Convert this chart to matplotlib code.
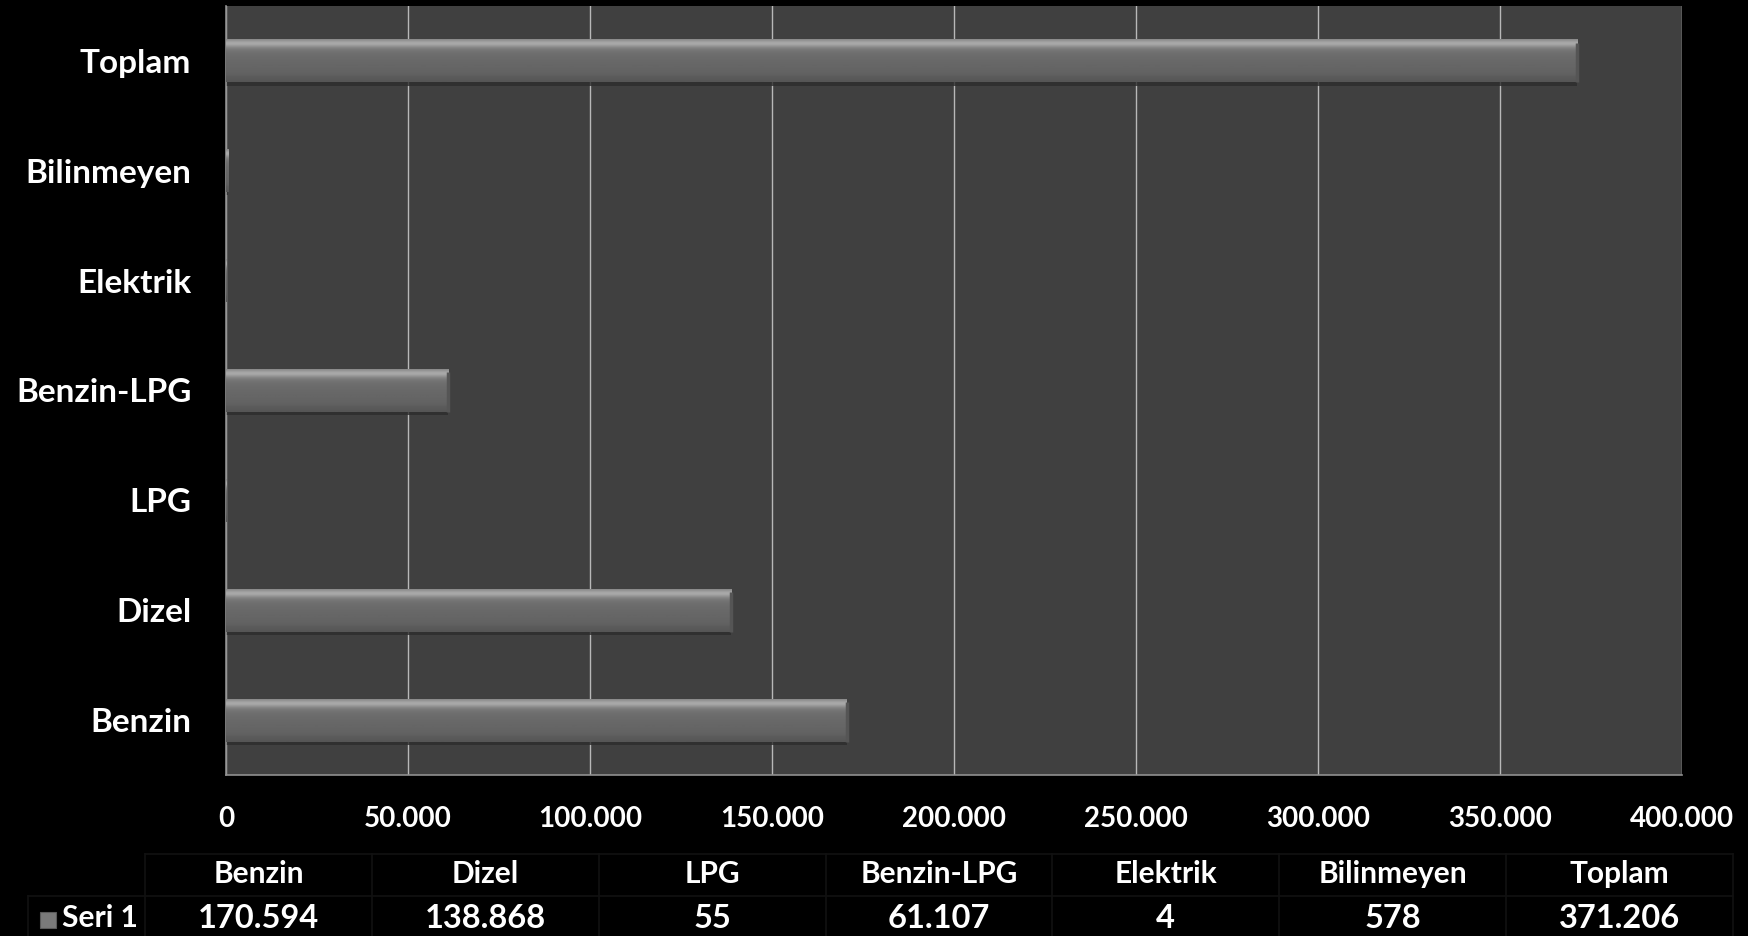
#!/usr/bin/env python3
# -*- coding: utf-8 -*-
import numpy as np
import matplotlib
matplotlib.use("Agg")
import matplotlib.pyplot as plt
from matplotlib.ticker import FuncFormatter
from matplotlib.lines import Line2D
from matplotlib.patches import Rectangle

# yakit turleri ve arac sayilari
categories = ["Benzin", "Dizel", "LPG", "Benzin-LPG", "Elektrik", "Bilinmeyen", "Toplam"]
values = [170594, 138868, 55, 61107, 4, 578, 371206]
series_name = "Seri 1"
xticks = [0, 50000, 100000, 150000, 200000, 250000, 300000, 350000, 400000]

plt.rcParams["font.family"] = ["Lato", "DejaVu Sans"]


def tr_fmt(x, pos=None):
    # turkce binlik ayirici nokta
    return f"{x:,.0f}".replace(",", ".")


fig = plt.figure(figsize=(17.48, 9.36), dpi=100, facecolor="black")
ax = fig.add_axes([0.1293, 0.172, 0.8329, 0.8216])
ax.set_facecolor("#404040")

# bar gradient profile (top -> bottom)
prof = np.array([0x8c, 0x9e, 0xaa, 0xa4, 0x94, 0x84, 0x7a, 0x74, 0x70, 0x6e, 0x6c, 0x6b,
                 0x6a, 0x69, 0x68, 0x67, 0x66, 0x66, 0x65, 0x64, 0x63, 0x62, 0x60, 0x5c,
                 0x5a, 0x58, 0x56]) / 255.0
img = np.repeat(prof[:, None], 3, axis=1)[:, None, :]
h = 0.39
for i, v in enumerate(values):
    # shadow
    ax.barh(i - 0.03, v, height=h, color="#2c2c2c", alpha=0.8, zorder=2)
    ax.imshow(img, extent=(0, v, i - h / 2, i + h / 2), aspect="auto",
              interpolation="bilinear", zorder=3)
    # end bevel
    if v > 5000:
        ax.plot([v, v], [i - h / 2, i + h / 2 - 0.03], color="#555555", lw=2.5,
                solid_capstyle="butt", zorder=4)

ax.set_xlim(0, 400000)
ax.set_ylim(-0.5, 6.5)
ax.set_xticks(xticks)
ax.xaxis.set_major_formatter(FuncFormatter(tr_fmt))
ax.set_yticks(range(len(categories)))
ax.set_yticklabels(categories)
ax.grid(axis="x", color="#b8b8b8", linewidth=1.0, zorder=1)
ax.set_axisbelow(True)
ax.tick_params(axis="both", length=0, colors="white")
ax.tick_params(axis="x", pad=22, labelsize=20)
ax.tick_params(axis="y", pad=25, labelsize=24)
for lab in ax.get_xticklabels() + ax.get_yticklabels():
    lab.set_fontweight("bold")
for s in ["left", "bottom"]:
    ax.spines[s].set_color("#909090")
    ax.spines[s].set_linewidth(1.2)
for s in ["top", "right"]:
    ax.spines[s].set_visible(False)

# veri tablosu
W, H = 1748.0, 936.0
tab_left, tab_right = 145, 1733
col_w = (tab_right - tab_left) / len(categories)
y_top, y_mid, y_bot = 854, 896, 936
gc = "#111111"


def fx(px):
    return px / W


def fy(py):
    return 1 - py / H


fig.add_artist(Line2D([fx(tab_left), fx(tab_right)], [fy(y_top), fy(y_top)], color=gc, lw=1.2))
fig.add_artist(Line2D([fx(28), fx(tab_right)], [fy(y_mid), fy(y_mid)], color=gc, lw=1.2))
fig.add_artist(Line2D([fx(28), fx(28)], [fy(y_mid), fy(y_bot)], color=gc, lw=1.2))
for j in range(len(categories) + 1):
    xx = tab_left + j * col_w
    fig.add_artist(Line2D([fx(xx), fx(xx)], [fy(y_top), fy(y_bot)], color=gc, lw=1.2))

for j, (c, v) in enumerate(zip(categories, values)):
    cx = tab_left + (j + 0.5) * col_w
    fig.text(fx(cx), fy(874), c, color="white", fontsize=21.5, fontweight="bold",
             ha="center", va="center")
    fig.text(fx(cx), fy(918), tr_fmt(v), color="white", fontsize=23.5, fontweight="bold",
             ha="center", va="center")

fig.add_artist(Rectangle((fx(40), fy(928)), fx(16), 16 / H, facecolor="#7a7a7a",
                         edgecolor="#5a5a5a", lw=0.8))
fig.text(fx(62), fy(918), series_name, color="white", fontsize=21.5, fontweight="bold",
         ha="left", va="center")

fig.savefig("out.png", dpi=100, facecolor="black")
